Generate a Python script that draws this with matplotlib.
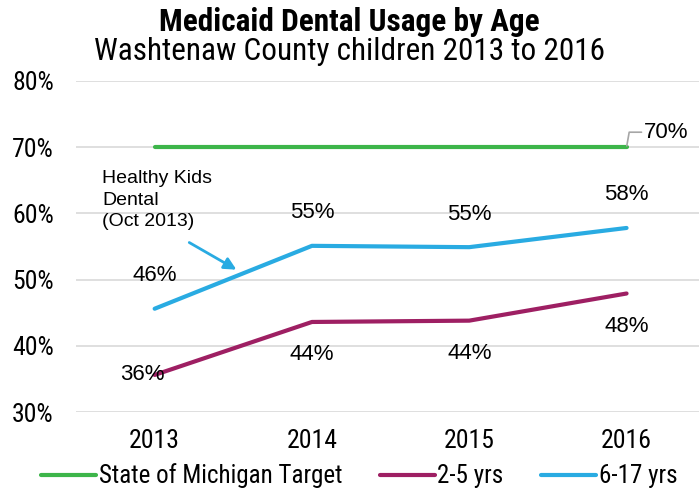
import matplotlib
matplotlib.use('Agg')
import matplotlib.pyplot as plt

years = ['2013', '2014', '2015', '2016']
target = [70, 70, 70, 70]
age_2_5 = [35.6, 43.6, 43.8, 47.9]
age_6_17 = [45.6, 55.1, 54.9, 57.8]
y_ticks = [30, 40, 50, 60, 70, 80]

narrow = ['Roboto Condensed', 'DejaVu Sans']
plain = ['Liberation Sans', 'DejaVu Sans']
plt.rcParams['font.family'] = narrow

green = '#3db54a'
purple = '#9e1f63'
blue = '#29abe2'

fig = plt.figure(figsize=(6.99, 4.92), dpi=100)
ax = fig.add_axes([76/699, 1-412/492, 623/699, 331/492])

x = range(len(years))
ax.plot(x, target, color=green, lw=3, solid_capstyle='round', label='State of Michigan Target')
ax.plot(x, age_2_5, color=purple, lw=3, solid_capstyle='round', label='2-5 yrs')
ax.plot(x, age_6_17, color=blue, lw=3, solid_capstyle='round', label='6-17 yrs')

ax.set_xlim(-0.5, -0.5 + 623/157.3)
ax.set_ylim(30, 80)
ax.set_yticks(y_ticks)
ax.set_yticklabels(['%d%%' % t for t in y_ticks], fontsize=18.5)
ax.set_xticks(list(x))
ax.set_xticklabels(years, fontsize=18.5)
ax.tick_params(length=0)
ax.tick_params(axis='y', pad=16)
ax.tick_params(axis='x', pad=12)
ax.grid(axis='y', color='#d9d9d9', lw=1.2)
ax.set_axisbelow(True)
for s in ax.spines.values():
    s.set_visible(False)

lab_font = dict(fontsize=16, family=plain, ha='center', va='center')
for i, v in enumerate(age_6_17):
    ax.annotate('%.0f%%' % v, (i, v), xytext=(0, 33), textcoords='offset pixels', **lab_font)
for i, v in enumerate(age_2_5):
    off = (-12, 0) if i == 0 else (0, -33)
    ax.annotate('%.0f%%' % v, (i, v), xytext=off, textcoords='offset pixels', **lab_font)

ax.annotate('%d%%' % target[-1], (3, target[-1]), xytext=(40, 15), textcoords='offset pixels',
            arrowprops=dict(arrowstyle='-', color='#a6a6a6', lw=1.2,
                            connectionstyle='angle,angleA=0,angleB=80,rad=0',
                            shrinkA=16, shrinkB=1),
            **lab_font)

ax.text(-0.335, 62.0, 'Healthy Kids\nDental\n(Oct 2013)', fontsize=14, family=plain,
        ha='left', va='center', linespacing=1.35)
ax.annotate('', xy=(0.52, 51.5), xytext=(0.22, 55.6),
            arrowprops=dict(arrowstyle='-|>', color=blue, lw=2, mutation_scale=18, shrinkA=0, shrinkB=0))

fig.text(0.5, 1-22/492, 'Medicaid Dental Usage by Age', ha='center', va='center',
         fontsize=22.5, fontweight='bold')
fig.text(0.5, 1-51/492, 'Washtenaw County children 2013 to 2016', ha='center', va='center',
         fontsize=22.5)

fig.legend(loc='center', bbox_to_anchor=(0.514, 1-476/492), ncol=3, frameon=False,
           fontsize=18, handlelength=2.2, columnspacing=1.5, handletextpad=0.1)

fig.savefig('out.png', dpi=100)
